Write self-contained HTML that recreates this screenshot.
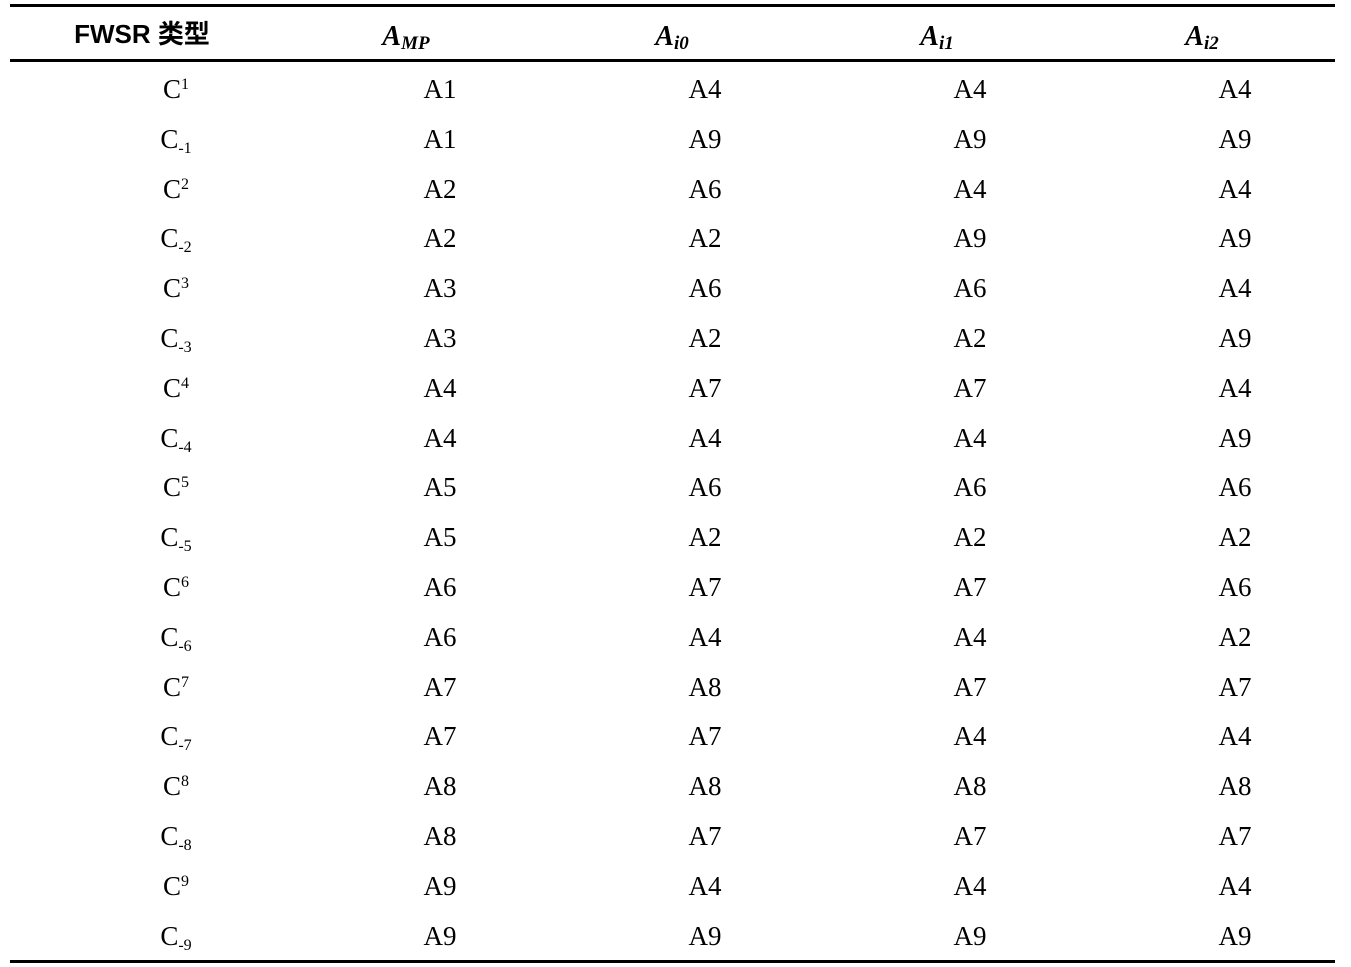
<!DOCTYPE html>
<html><head><meta charset="utf-8"><style>
body{margin:0;width:1351px;height:967px;background:#fff;position:relative;overflow:hidden;font-family:"Liberation Serif",serif;color:#000}
.l{position:absolute;left:10px;width:1325px;background:#000}
.c{position:absolute;width:200px;margin-left:-100px;text-align:center;font-size:27px;line-height:30px;height:30px}
.h{position:absolute;width:200px;margin-left:-100px;text-align:center;line-height:30px;top:22px}
sup,sub{font-size:16px;line-height:0}
sup{vertical-align:9px}
sub{vertical-align:-5px}
.hi{font-weight:bold;font-style:italic;font-size:28px}
.hi sub{font-size:19px;vertical-align:-4px}
</style></head><body>
<div class="l" style="top:4px;height:3px"></div>
<div class="l" style="top:59px;height:3px"></div>
<div class="l" style="top:960px;height:3px"></div>
<div class="h" style="left:142px;font-family:'Liberation Sans','Noto Sans CJK SC',sans-serif;font-size:26px;font-weight:bold;top:19px">FWSR 类型</div>
<div class="h hi" style="left:406px">A<sub>MP</sub></div>
<div class="h hi" style="left:672px">A<sub>i0</sub></div>
<div class="h hi" style="left:937px">A<sub>i1</sub></div>
<div class="h hi" style="left:1202px">A<sub>i2</sub></div>
<div id="rows"></div>
<script>
var d=[["C<sup>1</sup>","A1","A4","A4","A4"],["C<sub>-1</sub>","A1","A9","A9","A9"],["C<sup>2</sup>","A2","A6","A4","A4"],["C<sub>-2</sub>","A2","A2","A9","A9"],["C<sup>3</sup>","A3","A6","A6","A4"],["C<sub>-3</sub>","A3","A2","A2","A9"],["C<sup>4</sup>","A4","A7","A7","A4"],["C<sub>-4</sub>","A4","A4","A4","A9"],["C<sup>5</sup>","A5","A6","A6","A6"],["C<sub>-5</sub>","A5","A2","A2","A2"],["C<sup>6</sup>","A6","A7","A7","A6"],["C<sub>-6</sub>","A6","A4","A4","A2"],["C<sup>7</sup>","A7","A8","A7","A7"],["C<sub>-7</sub>","A7","A7","A4","A4"],["C<sup>8</sup>","A8","A8","A8","A8"],["C<sub>-8</sub>","A8","A7","A7","A7"],["C<sup>9</sup>","A9","A4","A4","A4"],["C<sub>-9</sub>","A9","A9","A9","A9"]];
var xs=[176,440,705,970,1235],h="";
d.forEach(function(r,i){var y=89+i*49.8-15;r.forEach(function(t,j){h+='<div class="c" style="left:'+xs[j]+'px;top:'+y+'px">'+t+'</div>';});});
document.getElementById("rows").innerHTML=h;
</script>
</body></html>
